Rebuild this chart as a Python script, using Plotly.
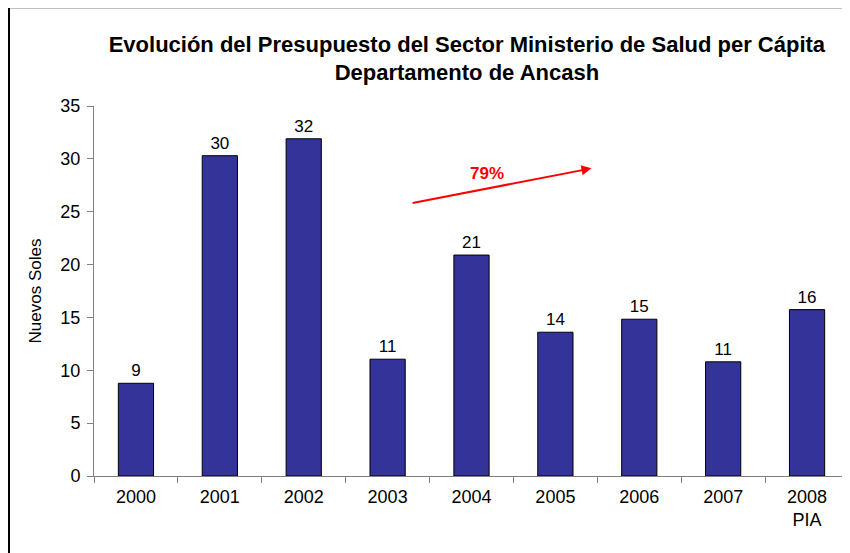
import plotly.graph_objects as go

years = ["2000", "2001", "2002", "2003", "2004", "2005", "2006", "2007", "2008<br>PIA"]
soles = [8.77, 30.3, 31.9, 11.05, 20.9, 13.6, 14.83, 10.8, 15.74]

FONT = "Liberation Sans, Arial, sans-serif"

fig = go.Figure(go.Bar(
    x=years,
    y=soles,
    marker=dict(color="#333399", line=dict(color="#000000", width=1)),
    width=0.42,
    texttemplate="%{y:.0f}",
    textposition="outside",
    textfont=dict(family=FONT, size=17, color="#000000"),
    cliponaxis=False,
))

# red trend arrow with percentage
fig.add_annotation(x=5.43, y=29.1, ax=3.28, ay=25.8, xref="x", yref="y", axref="x", ayref="y",
                   text="", showarrow=True, arrowhead=2, arrowsize=1, arrowwidth=2, arrowcolor="#ff0000")
fig.add_annotation(x=4.19, y=28.6, xref="x", yref="y", text="<b>79%</b>", showarrow=False,
                   font=dict(family=FONT, size=17, color="#ff0000"))

# outer frame
fig.add_shape(type="rect", xref="paper", yref="paper", x0=-0.1126, x1=1.05, y0=-0.3, y1=1.267,
              line=dict(color="#000000", width=2), layer="below")

# page body has an 8px margin, so the figure is sized to fit inside it
fig.update_layout(
    width=842,
    height=545,
    margin=dict(l=86, r=1, t=98, b=77),
    paper_bgcolor="white",
    plot_bgcolor="white",
    showlegend=False,
    font=dict(family=FONT, size=16, color="#000000"),
    title=dict(
        text="<b>Evolución del Presupuesto del Sector Ministerio de Salud per Cápita<br>Departamento de Ancash</b>",
        x=0.545, xanchor="center", y=0.92, yanchor="top",
        font=dict(family=FONT, size=22, color="#000000"),
    ),
    xaxis=dict(
        type="category",
        showline=True, linecolor="#808080", linewidth=1,
        ticks="outside", ticklen=6, tickcolor="#808080", tickson="boundaries",
        showgrid=False,
        tickfont=dict(size=18),
        ticklabelstandoff=4,
    ),
    yaxis=dict(
        range=[0, 35], dtick=5,
        showline=True, linecolor="#808080", linewidth=1,
        ticks="outside", ticklen=6, tickcolor="#808080",
        showgrid=False, zeroline=False,
        tickfont=dict(size=18),
        ticklabelstandoff=3,
        title=dict(text="Nuevos Soles", font=dict(size=17), standoff=14),
    ),
)

fig.write_html("out.html")
